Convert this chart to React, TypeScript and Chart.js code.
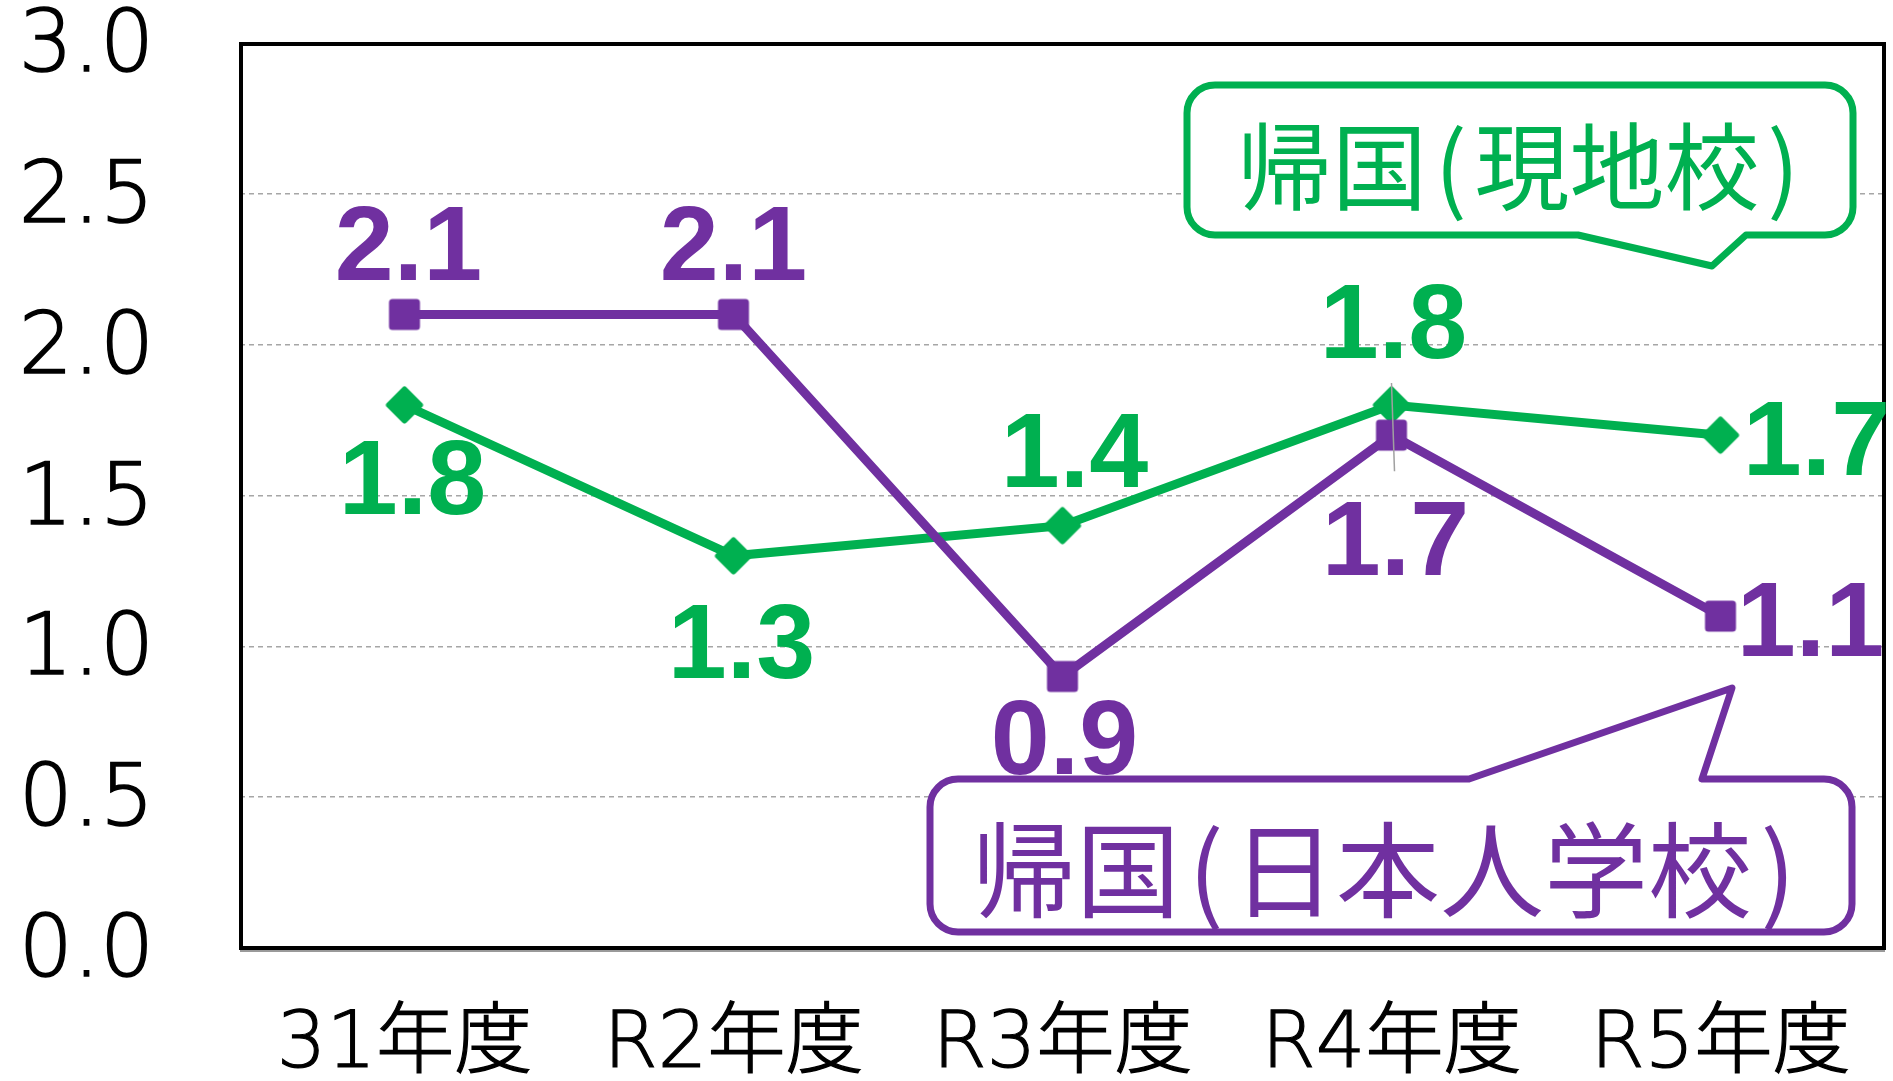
import React, { useEffect, useRef } from 'react';
import { Chart, registerables } from 'chart.js';

Chart.register(...registerables);

// ---- data ----
const categories = ['31年度', 'R2年度', 'R3年度', 'R4年度', 'R5年度'];
const japaneseSchoolSeries = [2.1, 2.1, 0.9, 1.7, 1.1]; // 帰国(日本人学校)
const localSchoolSeries = [1.8, 1.3, 1.4, 1.8, 1.7]; // 帰国(現地校)
const seriesNames = ['帰国(日本人学校)', '帰国(現地校)'];
const yMin = 0;
const yMax = 3;
const yStep = 0.5;

// label offsets relative to each point (dx, dy) in px
const japaneseLabelOffsets = [[4, -72], [0, -72], [2, 60], [4, 102], [90, 2]];
const localLabelOffsets = [[8, 71], [8, 84], [12, -77], [2, -85], [96, 2]];

const PURPLE = '#7030A0';
const GREEN = '#00B050';

function makeSquareMarker(color: string) {
  const c = document.createElement('canvas');
  c.width = 34; c.height = 34;
  const ctx = c.getContext('2d')!;
  ctx.fillStyle = color; ctx.strokeStyle = color;
  ctx.lineWidth = 7; ctx.lineJoin = 'round';
  ctx.beginPath(); ctx.rect(5, 5, 24, 24); ctx.fill(); ctx.stroke();
  return c;
}

function makeDiamondMarker(color: string) {
  const c = document.createElement('canvas');
  c.width = 42; c.height = 42;
  const ctx = c.getContext('2d')!;
  ctx.fillStyle = color; ctx.strokeStyle = color;
  ctx.lineWidth = 6; ctx.lineJoin = 'round';
  const m = 21, h = 15.5;
  ctx.beginPath();
  ctx.moveTo(m, m - h); ctx.lineTo(m + h, m); ctx.lineTo(m, m + h); ctx.lineTo(m - h, m);
  ctx.closePath(); ctx.fill(); ctx.stroke();
  return c;
}

function calloutPath(ctx: CanvasRenderingContext2D, x: number, y: number, w: number, h: number, r: number,
  tail: { l: number; tx: number; ty: number; r: number }, edge: 'top' | 'bottom') {
  ctx.beginPath();
  ctx.moveTo(x + r, y);
  if (edge === 'top') { ctx.lineTo(tail.l, y); ctx.lineTo(tail.tx, tail.ty); ctx.lineTo(tail.r, y); }
  ctx.lineTo(x + w - r, y);
  ctx.arcTo(x + w, y, x + w, y + r, r);
  ctx.lineTo(x + w, y + h - r);
  ctx.arcTo(x + w, y + h, x + w - r, y + h, r);
  if (edge === 'bottom') { ctx.lineTo(tail.r, y + h); ctx.lineTo(tail.tx, tail.ty); ctx.lineTo(tail.l, y + h); }
  ctx.lineTo(x + r, y + h);
  ctx.arcTo(x, y + h, x, y + h - r, r);
  ctx.lineTo(x, y + r);
  ctx.arcTo(x, y, x + r, y, r);
  ctx.closePath();
}

function drawCellText(ctx: CanvasRenderingContext2D, text: string, cx: number, cy: number, size: number, color: string) {
  ctx.font = `${size}px 'Noto Sans CJK JP'`;
  ctx.fillStyle = color;
  ctx.textAlign = 'center';
  ctx.textBaseline = 'middle';
  const chars = Array.from(text);
  const widths = chars.map((ch) => (ch.charCodeAt(0) < 128 ? 0.5 : 1) * size);
  const total = widths.reduce((a, b) => a + b, 0);
  let x = cx - total / 2;
  chars.forEach((ch, i) => {
    ctx.fillText(ch, x + widths[i] / 2, cy);
    x += widths[i];
  });
}

const decorPlugin = {
  id: 'decor',
  beforeDatasetsDraw(chart: any) {
    const { ctx, chartArea: a } = chart;
    ctx.save();
    ctx.strokeStyle = '#000';
    ctx.lineWidth = 4;
    ctx.strokeRect(a.left + 1, a.top + 1, a.right - a.left - 2, a.bottom - a.top - 1);
    ctx.strokeStyle = '#9a9a9a';
    ctx.lineWidth = 2;
    ctx.beginPath(); ctx.moveTo(a.left, a.bottom + 3); ctx.lineTo(a.right, a.bottom + 3); ctx.stroke();
    ctx.restore();
  },
  afterDatasetsDraw(chart: any) {
    const { ctx } = chart;
    ctx.save();
    // leader line at R4
    const g = chart.getDatasetMeta(1).data[3];
    const p = chart.getDatasetMeta(0).data[3];
    ctx.strokeStyle = '#a0a0a0';
    ctx.lineWidth = 1.5;
    ctx.beginPath(); ctx.moveTo(g.x, g.y - 22); ctx.lineTo(p.x + 3, p.y + 36); ctx.stroke();

    // callouts (legend)
    ctx.lineJoin = 'round';
    ctx.lineWidth = 7;
    calloutPath(ctx, 1187, 85, 666, 150, 28, { l: 1578, tx: 1712, ty: 266, r: 1746 }, 'bottom');
    ctx.fillStyle = '#fff'; ctx.fill();
    ctx.strokeStyle = GREEN; ctx.stroke();
    drawCellText(ctx, seriesNames[1], 1522, 167, 95, GREEN);

    calloutPath(ctx, 930, 779, 922, 153, 28, { l: 1469, tx: 1732, ty: 688, r: 1702 }, 'top');
    ctx.fillStyle = '#fff'; ctx.fill();
    ctx.strokeStyle = PURPLE; ctx.stroke();
    drawCellText(ctx, seriesNames[0], 1388, 870, 104, PURPLE);

    // data labels
    const fontSize = 106;
    ctx.font = `bold ${fontSize}px 'Liberation Sans', Arial, sans-serif`;
    ctx.textAlign = 'center';
    ctx.textBaseline = 'alphabetic';
    const offsets = [japaneseLabelOffsets, localLabelOffsets];
    const colors = [PURPLE, GREEN];
    chart.data.datasets.forEach((ds: any, di: number) => {
      const meta = chart.getDatasetMeta(di);
      ctx.fillStyle = colors[di];
      meta.data.forEach((pt: any, i: number) => {
        const [dx, dy] = offsets[di][i];
        ctx.fillText(Number(ds.data[i]).toFixed(1), pt.x + dx, pt.y + dy + fontSize * 0.716 / 2);
      });
    });
    ctx.restore();
  },
};

export default function App() {
  const ref = useRef<HTMLCanvasElement | null>(null);
  useEffect(() => {
    if (!ref.current) return;
    const chart = new Chart(ref.current, {
      type: 'line',
      data: {
        labels: categories,
        datasets: [
          {
            label: seriesNames[0],
            data: japaneseSchoolSeries,
            borderColor: PURPLE,
            backgroundColor: PURPLE,
            borderWidth: 9,
            pointStyle: makeSquareMarker(PURPLE) as any,
            pointRadius: 17,
            tension: 0,
          },
          {
            label: seriesNames[1],
            data: localSchoolSeries,
            borderColor: GREEN,
            backgroundColor: GREEN,
            borderWidth: 9,
            pointStyle: makeDiamondMarker(GREEN) as any,
            pointRadius: 21,
            tension: 0,
          },
        ],
      },
      options: {
        responsive: false,
        animation: false,
        layout: { autoPadding: false, padding: { top: 43, right: 8, left: 0, bottom: 0 } },
        plugins: { legend: { display: false }, tooltip: { enabled: false } },
        scales: {
          x: {
            offset: true,
            grid: { display: false, drawTicks: false, tickLength: 0 },
            border: { display: false },
            ticks: {
              color: '#000',
              autoSkip: false,
              maxRotation: 0,
              padding: 52,
              textStrokeColor: '#000',
              textStrokeWidth: 1.2,
              font: { family: "'DejaVu Sans', 'Noto Sans CJK JP'", size: 78, weight: '200' as any },
            } as any,
            afterFit: (s: any) => {
              s.height = 133;
              s.paddingLeft = 0; s.paddingRight = 0; s.paddingTop = 0; s.paddingBottom = 0;
            },
          },
          y: {
            min: yMin,
            max: yMax,
            grid: { color: '#a6a6a6', lineWidth: 1.5, drawTicks: false, tickLength: 0 },
            border: { display: false, dash: [5, 4] },
            ticks: {
              stepSize: yStep,
              color: '#000',
              padding: 86,
              labelOffset: 6,
              textStrokeColor: '#000',
              textStrokeWidth: 1.5,
              font: { family: "'DejaVu Sans'", size: 85, weight: '200' as any },
              callback: (v: any) => Number(v).toFixed(1),
            } as any,
            afterFit: (s: any) => {
              s.width = 240;
              s.paddingLeft = 0; s.paddingRight = 0; s.paddingTop = 0; s.paddingBottom = 0;
            },
          },
        },
      },
      plugins: [decorPlugin],
    });
    return () => chart.destroy();
  }, []);
  return (
    <div style={{ position: 'absolute', left: 0, top: 0, width: 1893, height: 1081, background: '#fff' }}>
      <canvas ref={ref} width={1893} height={1081} style={{ display: 'block' }} />
    </div>
  );
}
